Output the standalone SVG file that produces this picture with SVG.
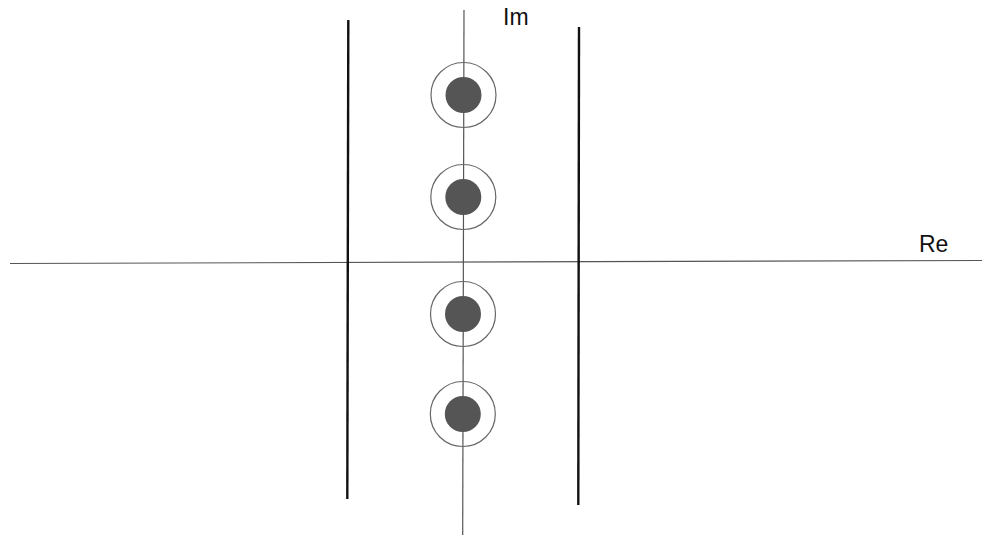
<svg xmlns="http://www.w3.org/2000/svg" width="982" height="536" viewBox="0 0 982 536">
<style>
.axis{stroke:#555;stroke-width:1.2;fill:none}
.bound{stroke:#111;stroke-width:2.4;fill:none}
.ring{fill:none;stroke:#666;stroke-width:1.2}
.dot{fill:#555}
text{font-family:"Liberation Sans",Arial,sans-serif;font-size:23px;fill:#111}
</style>
<rect width="982" height="536" fill="#fff"/>
<g id="connectors">
<line class="axis" x1="10" y1="263.5" x2="982" y2="260.5"/>
<line class="axis" x1="464" y1="10" x2="462.7" y2="535"/>
<line class="bound" x1="348.3" y1="20" x2="347.3" y2="499"/>
<line class="bound" x1="579" y1="27" x2="578.3" y2="505"/>
</g>
<g id="pole1"><circle class="ring" cx="463.5" cy="95" r="32.5"/><circle class="dot" cx="463.5" cy="95" r="18"/></g>
<g id="pole2"><circle class="ring" cx="463.3" cy="197" r="32.5"/><circle class="dot" cx="463.3" cy="197" r="18"/></g>
<g id="pole3"><circle class="ring" cx="463" cy="314" r="32.5"/><circle class="dot" cx="463" cy="314" r="18"/></g>
<g id="pole4"><circle class="ring" cx="462.8" cy="414" r="32.5"/><circle class="dot" cx="462.8" cy="414" r="18"/></g>
<g id="label-im"><text x="503" y="25">Im</text></g>
<g id="label-re"><text x="919" y="252">Re</text></g>
</svg>
